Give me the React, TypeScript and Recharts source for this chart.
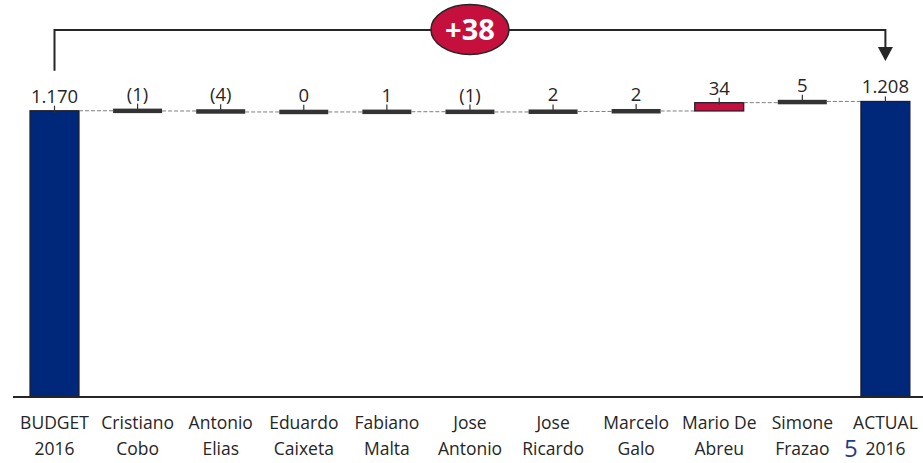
import React from "react";
import { BarChart, Bar, XAxis, YAxis } from "recharts";

// waterfall: first and last are totals, the rest are deltas
const categories = [
  "BUDGET\n2016",
  "Cristiano\nCobo",
  "Antonio\nElias",
  "Eduardo\nCaixeta",
  "Fabiano\nMalta",
  "Jose\nAntonio",
  "Jose\nRicardo",
  "Marcelo\nGalo",
  "Mario De\nAbreu",
  "Simone\nFrazao",
  "ACTUAL\n2016",
];
const values = [1170, -1, -4, 0, 1, -1, 2, 2, 34, 5, 1208];
const isTotal = [true, false, false, false, false, false, false, false, false, false, true];
const varianceLabel = "+38";
const pageNumber = "5";

const CHART_W = 927;
const CHART_H = 463;
const MARGIN = { top: 30, right: 0, left: 13, bottom: 0 };
const STEP = (CHART_W - MARGIN.left - MARGIN.right) / categories.length;
const BAR_W = 49;

const NAVY = "#00287a";
const CRIMSON = "#c50f3c";
const DARK = "#333333";
const FONT = "'Open Sans', sans-serif";

const fmt = (v: number, total: boolean) => {
  if (total) {
    const s = String(Math.abs(v));
    return s.length > 3 ? s.slice(0, s.length - 3) + "." + s.slice(-3) : s;
  }
  return v < 0 ? `(${Math.abs(v)})` : String(v);
};

let running = 0;
const data = categories.map((name, i) => {
  const v = values[i];
  let start: number, end: number;
  if (isTotal[i]) {
    start = 0;
    end = v;
    running = v;
  } else {
    start = running;
    end = running + v;
    running = end;
  }
  return {
    name,
    range: [Math.min(start, end), Math.max(start, end)],
    start,
    end,
    total: isTotal[i],
    label: fmt(v, isTotal[i]),
    color: isTotal[i] ? NAVY : v >= 10 ? CRIMSON : DARK,
  };
});

const WaterfallBar = (props: any) => {
  const { x, y, width, height, index, payload } = props;
  const cx = x + width / 2;
  let top = y;
  let h = height;
  if (!payload.total && h < 4.5) {
    top = y + h / 2 - 2.25;
    h = 4.5;
  }
  const endY = payload.end >= payload.start ? y : y + height;
  const isLast = index === data.length - 1;
  const big = payload.color === CRIMSON;
  const lastCx = cx + STEP * (data.length - 1);

  return (
    <g>
      <rect
        x={x}
        y={top}
        width={width}
        height={h}
        fill={payload.color}
        stroke={payload.total || big ? "#1b1b2b" : "none"}
        strokeWidth={payload.total || big ? 1.2 : 0}
      />
      {!isLast && (
        <line
          x1={x + width}
          x2={x + STEP}
          y1={endY}
          y2={endY}
          stroke="#7f7f7f"
          strokeWidth={1}
          strokeDasharray="4 2"
        />
      )}
      <line x1={cx} x2={cx} y1={top - 5} y2={top + 2} stroke={DARK} strokeWidth={1.2} />
      <text
        x={cx}
        y={top - 8}
        textAnchor="middle"
        fontSize={18.5}
        fill="#262626"
        fontFamily={FONT}
      >
        {payload.label}
      </text>
      {index === 0 && (
        <g>
          <polyline
            points={`${cx},${top - 40} ${cx},30 ${lastCx},30 ${lastCx},48`}
            fill="none"
            stroke="#262626"
            strokeWidth={2}
          />
          <polygon
            points={`${lastCx - 7.5},47 ${lastCx + 7.5},47 ${lastCx},61`}
            fill="#262626"
          />
          <ellipse
            cx={(cx + lastCx) / 2}
            cy={29.5}
            rx={39}
            ry={25}
            fill={CRIMSON}
            stroke="#262626"
            strokeWidth={1.5}
          />
          <text
            x={(cx + lastCx) / 2}
            y={40}
            textAnchor="middle"
            fontSize={29}
            fontWeight="bold"
            fill="#ffffff"
            fontFamily={FONT}
          >
            {varianceLabel}
          </text>
        </g>
      )}
    </g>
  );
};

const CategoryTick = (props: any) => {
  const { x, y, payload } = props;
  const lines = String(payload.value).split("\n");
  return (
    <text x={x} y={y} textAnchor="middle" fontSize={17.5} fill="#262626" fontFamily={FONT}>
      {lines.map((l, i) => (
        <tspan key={i} x={x} dy={i === 0 ? 24 : 26}>
          {l}
        </tspan>
      ))}
    </text>
  );
};

export default function App() {
  return (
    <div
      style={{
        position: "absolute",
        left: 0,
        top: 0,
        width: 923,
        height: 463,
        overflow: "hidden",
        background: "#ffffff",
      }}
    >
      <BarChart width={CHART_W} height={CHART_H} data={data} margin={MARGIN}>
        <XAxis
          dataKey="name"
          height={66}
          interval={0}
          tickLine={false}
          axisLine={{ stroke: "#262626", strokeWidth: 2 }}
          tick={<CategoryTick />}
        />
        <YAxis hide domain={[0, 1500]} />
        <Bar dataKey="range" barSize={BAR_W} shape={<WaterfallBar />} isAnimationActive={false} />
      </BarChart>
      <div
        style={{
          position: "absolute",
          left: 844,
          top: 436,
          fontFamily: FONT,
          fontSize: 24,
          lineHeight: "24px",
          color: "#1f3c8f",
        }}
      >
        {pageNumber}
      </div>
    </div>
  );
}
